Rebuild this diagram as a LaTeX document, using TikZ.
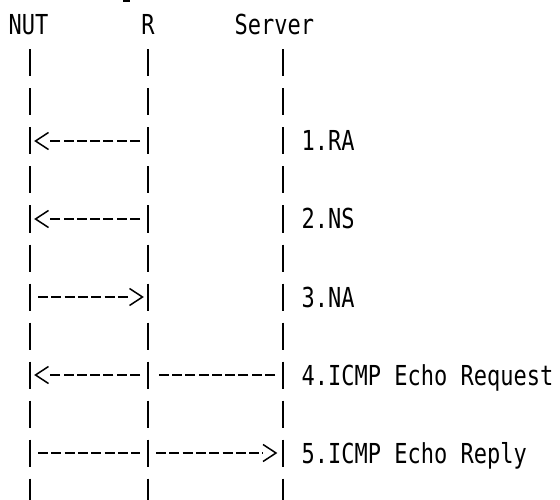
\documentclass[tikz,border=0pt]{standalone}
\usepackage{fontspec}
\newfontfamily\asciifont[FakeStretch=0.80]{DejaVu Sans Mono}
\newlength{\du}
\setlength{\du}{1pt}
\definecolor{dialinecolor}{rgb}{0.000000, 0.000000, 0.000000}
\tikzset{
  lifeline/.style={draw=dialinecolor, line width=1.8\du, dash pattern=on 27\du off 12\du},
  message/.style={draw=dialinecolor, line width=1.5\du, dash pattern=on 10\du off 3.3\du, shorten <=8\du},
  chevron/.style={draw=dialinecolor, line width=1.5\du, line join=miter},
  entity/.style={inner sep=0pt, anchor=base west, text=dialinecolor, font=\asciifont\fontsize{27.5\du}{30\du}\selectfont},
  msglabel/.style={entity}
}
\begin{document}
\begin{tikzpicture}
\pgftransformxscale{1.000000}
\pgftransformyscale{-1.000000}
\useasboundingbox (0\du,0\du) rectangle (560\du,500\du);
\clip (0\du,0\du) rectangle (560\du,500\du);
\fill[dialinecolor] (123\du,0\du) rectangle (130\du,2\du);
% heads
\node[entity] (nut) at (8.500000\du,35.000000\du){NUT};
\node[entity, anchor=base] (r) at (148.000000\du,35.000000\du){R};
\node[entity] (server) at (234.500000\du,35.000000\du){Server};
% lifelines
\coordinate (nutline) at (30.000000\du,49.500000\du);
\coordinate (rline) at (148.000000\du,49.500000\du);
\coordinate (srvline) at (283.000000\du,49.500000\du);
\coordinate (nutend) at (30.000000\du,510.000000\du);
\coordinate (rend) at (148.000000\du,510.000000\du);
\coordinate (srvend) at (283.000000\du,510.000000\du);
\draw[lifeline] (nutline) -- (nutend);
\draw[lifeline] (rline) -- (rend);
\draw[lifeline] (srvline) -- (srvend);
% message rows
\coordinate (ra) at (0\du,141.000000\du);
\coordinate (ns) at (0\du,219.000000\du);
\coordinate (na) at (0\du,297.000000\du);
\coordinate (req) at (0\du,375.000000\du);
\coordinate (rep) at (0\du,453.000000\du);
% 1.RA
\draw[message, shorten >=18.5\du] (rline |- ra) -- (nutline |- ra);
\draw[chevron] (nutline |- ra) ++(18.5\du,8.5\du) -- ++(-13\du,-8.5\du) -- ++(13\du,-8.5\du);
\node[msglabel] (ralabel) at (301.500000\du,151.000000\du){1.RA};
% 2.NS
\draw[message, shorten >=18.5\du] (rline |- ns) -- (nutline |- ns);
\draw[chevron] (nutline |- ns) ++(18.5\du,8.5\du) -- ++(-13\du,-8.5\du) -- ++(13\du,-8.5\du);
\node[msglabel] (nslabel) at (301.500000\du,229.000000\du){2.NS};
% 3.NA
\draw[message, shorten >=18.5\du] (nutline |- na) -- (rline |- na);
\draw[chevron] (rline |- na) ++(-18.5\du,8.5\du) -- ++(13\du,-8.5\du) -- ++(-13\du,-8.5\du);
\node[msglabel] (nalabel) at (301.500000\du,307.000000\du){3.NA};
% 4.ICMP Echo Request
\draw[message, shorten >=9.5\du] (srvline |- req) -- (rline |- req);
\draw[message, shorten >=18.5\du] (rline |- req) -- (nutline |- req);
\draw[chevron] (nutline |- req) ++(18.5\du,8.5\du) -- ++(-13\du,-8.5\du) -- ++(13\du,-8.5\du);
\node[msglabel] (reqlabel) at (301.500000\du,385.000000\du){4.ICMP Echo Request};
% 5.ICMP Echo Reply
\draw[message, shorten >=8\du] (nutline |- rep) -- (rline |- rep);
\draw[message, shorten >=20\du] (rline |- rep) -- (srvline |- rep);
\draw[chevron] (srvline |- rep) ++(-20\du,8.5\du) -- ++(13\du,-8.5\du) -- ++(-13\du,-8.5\du);
\node[msglabel] (replabel) at (301.500000\du,463.000000\du){5.ICMP Echo Reply};
\end{tikzpicture}
\end{document}
